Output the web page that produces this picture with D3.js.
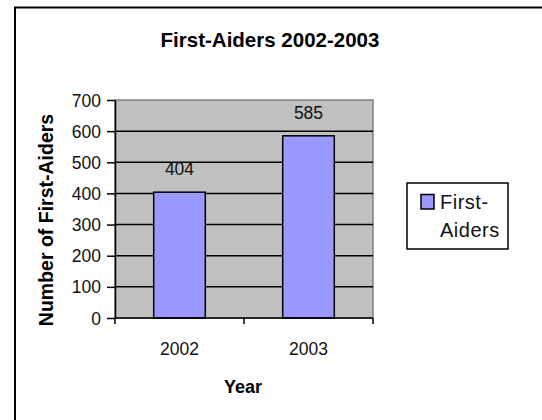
<!DOCTYPE html>
<html>
<head>
<meta charset="utf-8">
<script src="https://cdn.jsdelivr.net/npm/d3@7"></script>
<style>
  html, body { margin: 0; padding: 0; background: #fff; }
  svg { display: block; font-family: Arial, "Liberation Sans", sans-serif; }
</style>
</head>
<body>
<svg id="chart" width="542" height="420"></svg>
<script>
// data
var years = ["2002", "2003"];
var firstAiders = [404, 585];
var yTicks = [0, 100, 200, 300, 400, 500, 600, 700];
var seriesName = ["First-", "Aiders"];

var svg = d3.select("#chart");

// outer frame (right and bottom edges fall outside the picture)
svg.append("rect")
    .attr("x", 15).attr("y", 7.5)
    .attr("width", 540).attr("height", 420)
    .style("fill", "none")
    .style("stroke", "#000")
    .style("stroke-width", "2px");

var margin = {left: 115, top: 100};
var width = 258, height = 218;

var g = svg.append("g")
    .attr("transform", "translate(" + margin.left + "," + margin.top + ")");

var x = d3.scaleBand()
    .domain(years)
    .range([0, width])
    .paddingInner(0.6)
    .paddingOuter(0.3);

var y = d3.scaleLinear()
    .domain([0, 700])
    .range([height, 0]);

// plot area
g.append("rect")
    .attr("width", width).attr("height", height)
    .style("fill", "#c0c0c0")
    .style("stroke", "#808080")
    .style("stroke-width", "1.5px");

// gridlines
g.selectAll(".grid")
    .data(yTicks.filter(function(d){ return d > 0 && d < 700; }))
    .enter().append("line")
    .attr("x1", 0).attr("x2", width)
    .attr("y1", function(d){ return y(d); })
    .attr("y2", function(d){ return y(d); })
    .style("stroke", "#000")
    .style("stroke-width", "1.5px");

// bars
g.selectAll(".bar")
    .data(firstAiders)
    .enter().append("rect")
    .attr("x", function(d, i){ return x(years[i]); })
    .attr("y", function(d){ return y(d); })
    .attr("width", x.bandwidth())
    .attr("height", function(d){ return height - y(d); })
    .style("fill", "#9999ff")
    .style("stroke", "#000")
    .style("stroke-width", "1.5px");

// value labels
g.selectAll(".val")
    .data(firstAiders)
    .enter().append("text")
    .attr("x", function(d, i){ return x(years[i]) + x.bandwidth() / 2; })
    .attr("y", function(d){ return y(d) - 17; })
    .attr("text-anchor", "middle")
    .style("font-size", "17.5px")
    .style("fill", "#111")
    .text(function(d){ return d; });

// y axis
var yAxis = g.append("g")
    .call(d3.axisLeft(y).tickValues(yTicks).tickSize(8).tickPadding(6).tickSizeOuter(0));
yAxis.select(".domain").style("stroke", "#000").style("stroke-width", "1.5px");
yAxis.selectAll(".tick line").style("stroke", "#000").style("stroke-width", "1.5px");
yAxis.selectAll(".tick text")
    .style("font-size", "17.5px")
    .style("font-family", "Arial, 'Liberation Sans', sans-serif")
    .style("fill", "#111")
    .attr("dy", "0.35em");

// x axis: ticks sit at the edges and between categories
var xAxis = g.append("g")
    .attr("transform", "translate(0," + height + ")");
xAxis.append("line")
    .attr("x1", 0).attr("x2", width)
    .style("stroke", "#000").style("stroke-width", "1.5px");
var xTickPos = [0, (x("2002") + x.bandwidth() + x("2003")) / 2, width];
xAxis.selectAll(".xt")
    .data(xTickPos)
    .enter().append("line")
    .attr("x1", function(d){ return d; }).attr("x2", function(d){ return d; })
    .attr("y1", 0).attr("y2", 6)
    .style("stroke", "#000").style("stroke-width", "1.5px");
xAxis.selectAll(".xl")
    .data(years)
    .enter().append("text")
    .attr("x", function(d){ return x(d) + x.bandwidth() / 2; })
    .attr("y", 37)
    .attr("text-anchor", "middle")
    .style("font-size", "17.5px")
    .style("fill", "#111")
    .text(function(d){ return d; });

// title and axis titles
svg.append("text")
    .attr("x", 270).attr("y", 46.5)
    .attr("text-anchor", "middle")
    .style("font-size", "20.5px").style("font-weight", "bold")
    .text("First-Aiders 2002-2003");

svg.append("text")
    .attr("x", 243).attr("y", 393)
    .attr("text-anchor", "middle")
    .style("font-size", "18px").style("font-weight", "bold")
    .text("Year");

svg.append("text")
    .attr("transform", "translate(53,220) rotate(-90)")
    .attr("text-anchor", "middle")
    .style("font-size", "19.5px").style("font-weight", "bold")
    .text("Number of First-Aiders");

// legend
var leg = svg.append("g").attr("transform", "translate(407,183)");
leg.append("rect")
    .attr("width", 101).attr("height", 66)
    .style("fill", "#fff")
    .style("stroke", "#000")
    .style("stroke-width", "1.5px");
leg.append("rect")
    .attr("x", 14).attr("y", 11.5)
    .attr("width", 13).attr("height", 14.5)
    .style("fill", "#9999ff")
    .style("stroke", "#000")
    .style("stroke-width", "1.5px");
leg.selectAll(".lt")
    .data(seriesName)
    .enter().append("text")
    .attr("x", 33)
    .attr("y", function(d, i){ return 25.5 + i * 28.5; })
    .style("font-size", "20px")
    .style("letter-spacing", "0.5px")
    .style("fill", "#111")
    .text(function(d){ return d; });
</script>
</body>
</html>
